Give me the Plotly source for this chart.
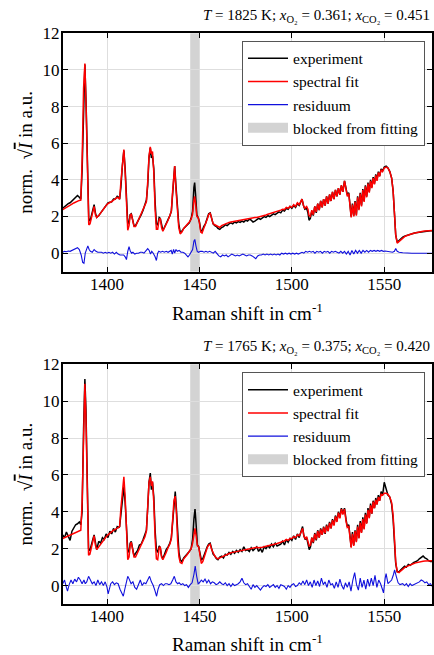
import plotly.graph_objects as go

# ---------------- data: top panel (T = 1825 K) ----------------
wn_top = [
    1376, 1377, 1378, 1379, 1380, 1381, 1382, 1383, 1384, 1385,
    1385.8, 1386.5, 1387.3, 1388, 1388.7, 1389.4, 1390.1, 1390.8, 1391.5, 1392.3,
    1393, 1393.7, 1394.4, 1395.5, 1396.5, 1397.5, 1398.5, 1399.5, 1400.5, 1401.5,
    1402.5, 1403.5, 1404.5, 1405.5, 1406.3, 1406.8, 1407.5, 1408.3, 1409.1, 1409.8,
    1410.5, 1411.2, 1411.9, 1412.5, 1413.1, 1413.8, 1414.6, 1415.4, 1416.5, 1417.5,
    1418.5, 1419.5, 1420.5, 1421.3, 1422, 1422.7, 1423.4, 1424, 1424.6, 1425.3,
    1426, 1426.7, 1427.4, 1428.2, 1428.8, 1429.5, 1430.2, 1431, 1432, 1433,
    1434, 1434.8, 1435.5, 1436.2, 1436.6, 1437.2, 1438, 1438.8, 1439.6, 1440.5,
    1441.5, 1442.5, 1443.5, 1444.5, 1445.5, 1446.3, 1447, 1447.4, 1447.9, 1448.6,
    1449.3, 1450, 1450.7, 1451.4, 1452.3, 1453.2, 1454.2, 1455, 1455.8, 1456.6,
    1457.4, 1458.3, 1459.2, 1460, 1461, 1462, 1463, 1464, 1465, 1466,
    1467, 1468, 1469, 1470, 1471, 1472, 1473, 1474, 1475, 1476,
    1477, 1478, 1479, 1480, 1481, 1482, 1483, 1484, 1485, 1486,
    1487, 1488, 1489, 1490, 1491, 1492, 1493, 1494, 1495, 1496,
    1497, 1498, 1499, 1500, 1501, 1502, 1503, 1504, 1505, 1505.5,
    1506.3, 1507, 1508, 1508.7, 1509.3, 1510, 1510.8, 1511.6, 1512.4, 1513.2,
    1514, 1514.8, 1515.6, 1516.4, 1517.2, 1518, 1518.8, 1519.6, 1520.4, 1521.2,
    1522, 1522.8, 1523.6, 1524.4, 1525.2, 1526, 1526.8, 1527.6, 1528.5, 1529.3,
    1530, 1530.8, 1531.5, 1532.1, 1532.8, 1533.5, 1534.2, 1534.9, 1535.6, 1536.3,
    1537, 1537.7, 1538.4, 1539.1, 1539.8, 1540.5, 1541.2, 1541.9, 1542.6, 1543.3,
    1544, 1544.7, 1545.4, 1546.1, 1546.8, 1547.5, 1548.3, 1549.1, 1550, 1551,
    1552, 1553, 1554, 1554.8, 1555.5, 1556.2, 1557, 1558, 1559, 1560,
    1561, 1562, 1563, 1564, 1565, 1566, 1567, 1568, 1569, 1570,
    1571, 1572, 1573, 1574, 1575, 1576,
]
exp_top = [
    2.45, 2.55, 2.6, 2.7, 2.75, 2.85, 2.95, 3.05, 3.15, 3.05,
    2.95, 4.5, 8.5, 10.3, 8.0, 4.0, 1.9, 1.75, 2.0, 2.4,
    2.65, 2.2, 1.95, 2.05, 2.2, 2.35, 2.5, 2.65, 2.75, 2.78,
    2.8, 2.95, 2.95, 3.1, 3.05, 2.95, 3.6, 4.8, 5.6, 4.6,
    2.6, 1.6, 1.7, 2.1, 2.15, 1.85, 1.5, 1.5, 1.7, 1.9,
    2.1, 2.35, 2.6, 2.9, 3.7, 5.2, 5.75, 5.2, 5.3, 4.6,
    2.8, 1.6, 1.55, 1.95, 1.9, 1.45, 1.25, 1.4, 1.6, 1.8,
    2.05, 2.3, 3.2, 4.5, 4.75, 3.8, 2.4, 1.6, 1.15, 1.2,
    1.35, 1.45, 1.55, 1.65, 1.9, 2.3, 3.6, 3.85, 3.2, 2.1,
    1.95, 1.7, 1.25, 1.2, 1.45, 1.6, 1.9, 2.15, 2.2, 1.95,
    1.6, 1.5, 1.45, 1.35, 1.3, 1.4, 1.45, 1.55, 1.5, 1.6,
    1.65, 1.6, 1.7, 1.65, 1.72, 1.68, 1.75, 1.7, 1.8, 1.75,
    1.85, 1.8, 1.7, 1.75, 1.85, 1.9, 1.85, 1.95, 2.0, 1.95,
    2.05, 2.0, 2.1, 2.15, 2.1, 2.2, 2.25, 2.2, 2.35, 2.3,
    2.45, 2.4, 2.55, 2.45, 2.6, 2.5, 2.7, 2.6, 2.8, 2.95,
    2.6, 2.4, 2.45, 2.2, 1.8, 1.9, 2.3, 2.05, 2.55, 2.2,
    2.7, 2.35, 2.85, 2.5, 2.95, 2.6, 3.1, 2.7, 3.2, 2.85,
    3.35, 2.95, 3.45, 3.1, 3.55, 3.2, 3.7, 3.35, 3.95, 3.5,
    3.2, 3.3, 2.6, 2.0, 2.7, 2.05, 2.85, 2.1, 3.1, 2.4,
    3.3, 2.6, 3.5, 2.85, 3.7, 3.1, 3.85, 3.35, 4.0, 3.6,
    4.15, 3.8, 4.3, 4.0, 4.45, 4.2, 4.6, 4.5, 4.7, 4.75,
    4.65, 4.45, 4.1, 3.4, 2.2, 1.0, 0.6, 0.7, 0.8, 0.88,
    0.93, 0.97, 1.0, 1.03, 1.06, 1.09, 1.11, 1.13, 1.15, 1.17,
    1.18, 1.19, 1.2, 1.21, 1.22, 1.22,
]
fit_top = [
    2.38, 2.45, 2.5, 2.58, 2.62, 2.68, 2.74, 2.8, 2.85, 2.88,
    2.9, 5.0, 9.0, 10.35, 7.8, 3.6, 1.55, 1.6, 1.9, 2.35,
    2.55, 2.1, 1.95, 2.05, 2.2, 2.35, 2.5, 2.6, 2.7, 2.75,
    2.82, 2.9, 3.0, 3.05, 3.0, 2.95, 3.9, 5.0, 5.65, 4.4,
    2.2, 1.25, 1.5, 2.05, 2.15, 1.85, 1.45, 1.45, 1.7, 1.9,
    2.1, 2.35, 2.6, 2.8, 3.9, 5.3, 5.8, 5.4, 5.55, 4.4,
    2.4, 1.3, 1.3, 1.85, 1.9, 1.4, 1.2, 1.35, 1.6, 1.8,
    2.05, 2.3, 3.4, 4.6, 4.75, 3.6, 2.2, 1.4, 1.05, 1.15,
    1.35, 1.45, 1.6, 1.7, 1.85, 2.15, 2.9, 3.1, 2.7, 2.0,
    1.95, 1.65, 1.15, 1.1, 1.35, 1.55, 1.85, 2.1, 2.2, 1.9,
    1.6, 1.55, 1.5, 1.45, 1.4, 1.5, 1.55, 1.6, 1.65, 1.68,
    1.7, 1.72, 1.75, 1.75, 1.78, 1.8, 1.8, 1.82, 1.85, 1.88,
    1.9, 1.9, 1.92, 1.95, 1.95, 1.97, 2.0, 2.05, 2.05, 2.08,
    2.12, 2.15, 2.18, 2.2, 2.25, 2.28, 2.3, 2.35, 2.4, 2.38,
    2.5, 2.45, 2.55, 2.5, 2.65, 2.55, 2.75, 2.65, 2.85, 2.95,
    2.6, 2.45, 2.55, 2.4, 2.05, 2.0, 2.35, 2.1, 2.55, 2.25,
    2.7, 2.35, 2.85, 2.5, 2.95, 2.6, 3.1, 2.7, 3.2, 2.85,
    3.35, 2.95, 3.45, 3.1, 3.55, 3.2, 3.7, 3.35, 3.95, 3.45,
    3.1, 3.25, 2.5, 1.95, 2.65, 2.0, 2.8, 2.05, 3.05, 2.35,
    3.25, 2.55, 3.45, 2.8, 3.65, 3.05, 3.8, 3.3, 3.95, 3.55,
    4.1, 3.75, 4.25, 3.95, 4.4, 4.2, 4.55, 4.45, 4.65, 4.7,
    4.65, 4.45, 4.1, 3.4, 2.2, 1.0, 0.55, 0.65, 0.75, 0.85,
    0.9, 0.95, 1.0, 1.03, 1.06, 1.09, 1.12, 1.14, 1.16, 1.18,
    1.2, 1.21, 1.22, 1.23, 1.24, 1.24,
]
res_wn_top = [
    1376, 1377, 1378, 1379, 1380, 1381, 1382, 1383, 1384, 1385,
    1386, 1386.8, 1387.5, 1388.2, 1389, 1389.6, 1390.3, 1391, 1392, 1393,
    1394, 1395, 1396, 1397, 1398, 1399, 1400, 1401, 1402, 1403,
    1404, 1405, 1406, 1407, 1408, 1409, 1409.8, 1410.5, 1411.2, 1411.9,
    1412.6, 1413.3, 1414, 1415, 1416, 1417, 1418, 1419, 1420, 1421,
    1422, 1422.8, 1423.5, 1424.2, 1425, 1426, 1426.7, 1427.4, 1428, 1429,
    1430, 1431, 1432, 1433, 1434, 1434.7, 1435.3, 1436, 1436.6, 1437.3,
    1438, 1439, 1440, 1441, 1442, 1443, 1443.8, 1444.6, 1445.5, 1446.3,
    1447, 1447.5, 1448.1, 1448.8, 1449.5, 1450.5, 1451.5, 1452.5, 1453.5, 1454.5,
    1455.5, 1456.5, 1457.5, 1458.5, 1459.5, 1460.5, 1461.5, 1462.5, 1463.5, 1464.5,
    1465.5, 1466.5, 1467.5, 1468.5, 1469.5, 1470.5, 1471.5, 1472.5, 1473.5, 1474.5,
    1475.5, 1476.5, 1477.5, 1478.5, 1479.5, 1480.5, 1481.5, 1482.5, 1483.5, 1484.5,
    1485.5, 1486.5, 1487.5, 1488.5, 1489.5, 1490.5, 1491.5, 1492.5, 1493.5, 1494.5,
    1495.5, 1496.5, 1497.5, 1498.5, 1499.5, 1500.5, 1501.5, 1502.5, 1503.5, 1504.5,
    1505.5, 1506.5, 1507.5, 1508.5, 1509.5, 1510.5, 1511.5, 1512.5, 1513.5, 1514.5,
    1515.5, 1516.5, 1517.5, 1518.5, 1519.5, 1520.5, 1521.5, 1522.5, 1523.5, 1524.5,
    1525.5, 1526.5, 1527.5, 1528.5, 1529.5, 1530.5, 1531.5, 1532.5, 1533.5, 1534.5,
    1535.5, 1536.5, 1537.5, 1538.5, 1539.5, 1540.5, 1541.5, 1542.5, 1543.5, 1544.5,
    1545.5, 1546.5, 1547.5, 1548.5, 1549.5, 1550.5, 1551.5, 1552.5, 1553.5, 1554.5,
    1555.5, 1556.2, 1557, 1558, 1560, 1562, 1565, 1568, 1571, 1574,
    1576,
]
res_top = [
    0.05, 0.1, 0.08, 0.12, 0.1, 0.15, 0.2, 0.25, 0.3, 0.2,
    -0.1, -0.5, -0.55, 0.0, 0.3, 0.4, 0.2, 0.1, 0.05, 0.2,
    0.1, 0.05, 0.05, 0.05, 0.0, 0.05, 0.0, 0.05, 0.0, 0.05,
    -0.05, 0.05, -0.05, -0.1, -0.1, -0.1, -0.2, -0.35, 0.1, 0.35,
    0.1, 0.0, 0.05, -0.05, 0.0, 0.0, 0.05, 0.05, 0.0, 0.1,
    0.25, 0.15, -0.05, 0.1, 0.0, -0.2, -0.4, 0.0, 0.1, 0.05,
    0.1, 0.05, 0.1, 0.05, 0.1, 0.15, -0.05, 0.2, 0.0, 0.2,
    0.1, 0.15, 0.05, 0.05, 0.0, -0.1, -0.2, -0.1, 0.05, 0.2,
    0.65, 0.75, 0.4, 0.1, 0.05, 0.1, 0.1, 0.05, 0.1, 0.05,
    0.1, 0.05, 0.0, 0.1, -0.05, -0.15, -0.2, -0.1, -0.15, -0.1,
    -0.2, -0.1, -0.05, -0.1, -0.15, -0.1, -0.15, -0.1, -0.05, -0.1,
    -0.15, -0.1, -0.1, -0.15, -0.25, -0.3, -0.15, -0.1, -0.1, -0.05,
    -0.1, -0.05, -0.1, -0.05, -0.1, -0.05, -0.1, -0.05, -0.1, 0.0,
    -0.05, 0.0, -0.05, 0.0, -0.05, 0.0, -0.05, 0.0, -0.05, 0.0,
    0.05, 0.0, 0.1, 0.05, 0.1, 0.05, 0.1, 0.0, 0.1, 0.05,
    0.1, 0.0, 0.1, 0.05, 0.1, 0.0, 0.1, 0.05, 0.1, 0.05,
    0.0, 0.1, 0.0, 0.1, -0.05, 0.1, -0.1, 0.15, -0.05, 0.15,
    0.0, 0.15, 0.0, 0.15, 0.05, 0.15, 0.05, 0.15, 0.1, 0.15,
    0.1, 0.15, 0.1, 0.15, 0.1, 0.12, 0.1, 0.08, 0.05, 0.05,
    0.1, 0.25, 0.1, 0.05, 0.02, 0.0, 0.0, 0.0, -0.02, 0.0,
    0.0,
]

# ---------------- data: bottom panel (T = 1765 K) ----------------
wn_bot = [
    1376, 1377, 1378, 1379, 1380, 1381, 1382, 1383, 1384, 1385,
    1385.8, 1386.5, 1387.3, 1388, 1388.6, 1389.3, 1390, 1390.7, 1391.5, 1392.3,
    1393, 1393.7, 1394.4, 1395.5, 1396.5, 1397.5, 1398.5, 1399.5, 1400.5, 1401.5,
    1402.5, 1403.5, 1404.5, 1405.5, 1406.3, 1406.8, 1407.5, 1408.3, 1409.1, 1409.8,
    1410.5, 1411.2, 1411.9, 1412.5, 1413.1, 1413.8, 1414.6, 1415.4, 1416.5, 1417.5,
    1418.5, 1419.5, 1420.5, 1421.3, 1422, 1422.7, 1423.4, 1424, 1424.6, 1425.3,
    1426, 1426.7, 1427.4, 1428.2, 1428.8, 1429.5, 1430.2, 1431, 1432, 1433,
    1434, 1434.8, 1435.5, 1436.2, 1436.9, 1437.5, 1438.2, 1438.9, 1439.6, 1440.5,
    1441.5, 1442.5, 1443.5, 1444.5, 1445.5, 1446.3, 1447, 1447.6, 1448.2, 1448.9,
    1449.6, 1450.3, 1451, 1451.8, 1452.6, 1453.4, 1454.2, 1455, 1455.8, 1456.6,
    1457.4, 1458.3, 1459.2, 1460, 1461, 1462, 1463, 1464, 1465, 1466,
    1467, 1468, 1469, 1470, 1471, 1472, 1473, 1474, 1475, 1476,
    1477, 1478, 1479, 1480, 1481, 1482, 1483, 1484, 1485, 1486,
    1487, 1488, 1489, 1490, 1491, 1492, 1493, 1494, 1495, 1496,
    1497, 1498, 1499, 1500, 1501, 1502, 1503, 1504, 1505, 1505.8,
    1506.5, 1507.2, 1508, 1508.7, 1509.4, 1510.1, 1510.8, 1511.6, 1512.4, 1513.2,
    1514, 1514.8, 1515.6, 1516.4, 1517.2, 1518, 1518.8, 1519.6, 1520.4, 1521.2,
    1522, 1522.8, 1523.6, 1524.4, 1525.2, 1526, 1526.8, 1527.6, 1528.5, 1529.3,
    1530, 1530.8, 1531.5, 1532.1, 1532.8, 1533.5, 1534.2, 1534.9, 1535.6, 1536.3,
    1537, 1537.7, 1538.4, 1539.1, 1539.8, 1540.5, 1541.2, 1541.9, 1542.6, 1543.3,
    1544, 1544.7, 1545.4, 1546.1, 1546.8, 1547.5, 1548.3, 1549.1, 1550, 1551,
    1552, 1553, 1554, 1554.8, 1555.5, 1556.2, 1557, 1558, 1559, 1560,
    1561, 1562, 1563, 1564, 1565, 1566, 1567, 1568, 1569, 1570,
    1571, 1572, 1573, 1574, 1575, 1576,
]
exp_bot = [
    2.75, 2.6, 2.9, 2.65, 2.45, 2.95, 3.1, 3.3, 3.35, 3.45,
    3.3, 4.0, 8.5, 11.2, 9.5, 4.5, 2.0, 1.9, 2.3, 2.5,
    2.75, 2.25, 1.95, 2.4, 2.3, 2.6, 2.5, 2.8, 2.6, 2.95,
    2.8, 3.1, 2.9, 3.2, 3.15, 3.2, 3.8, 4.8, 5.35, 4.5,
    2.8, 1.9, 1.8, 2.3, 2.4, 2.0, 1.6, 1.75, 1.9, 2.2,
    2.25, 2.5, 2.75, 3.0, 4.2, 5.6, 6.1, 5.2, 5.6, 4.8,
    3.0, 1.95, 1.8, 2.15, 2.05, 1.6, 1.45, 1.7, 1.95, 2.1,
    2.3, 2.6, 3.5, 4.6, 5.1, 4.2, 2.6, 1.8, 1.4, 1.3,
    1.5, 1.6, 1.75, 1.85, 2.0, 2.5, 3.6, 4.15, 3.3, 2.2,
    2.1, 1.65, 1.4, 1.45, 1.7, 1.9, 2.1, 2.25, 2.3, 2.0,
    1.7, 1.6, 1.45, 1.4, 1.55, 1.6, 1.5, 1.7, 1.65, 1.8,
    1.7, 1.85, 1.75, 1.9, 1.8, 1.95, 1.85, 2.1, 1.9, 1.95,
    1.85, 2.05, 1.9, 2.0, 2.1, 1.85, 2.0, 1.8, 2.1, 2.0,
    2.15, 2.05, 2.25, 2.1, 2.3, 2.15, 2.2, 2.25, 2.4, 2.2,
    2.5, 2.35, 2.55, 2.45, 2.7, 2.5, 2.8, 2.6, 2.95, 3.2,
    2.7, 2.5, 2.6, 2.2, 1.95, 2.1, 2.6, 2.3, 2.85, 2.45,
    3.0, 2.6, 3.1, 2.75, 3.2, 2.8, 3.3, 2.95, 3.45, 3.1,
    3.6, 3.3, 3.8, 3.5, 4.0, 3.7, 4.2, 3.9, 4.2, 3.6,
    3.2, 3.3, 2.6, 2.1, 2.9, 2.2, 3.0, 2.4, 3.3, 2.6,
    3.5, 2.9, 3.7, 3.1, 3.95, 3.4, 4.2, 3.7, 4.45, 3.9,
    4.6, 4.2, 4.75, 4.4, 4.9, 4.6, 5.1, 4.9, 5.6, 5.2,
    4.9, 4.8, 4.4, 3.6, 2.5, 1.2, 0.75, 0.75, 0.85, 0.95,
    1.05, 1.0, 1.15, 1.1, 1.2, 1.25, 1.3, 1.35, 1.45, 1.55,
    1.6, 1.5, 1.45, 1.35, 1.3, 1.3,
]
fit_bot = [
    2.55, 2.6, 2.65, 2.7, 2.75, 2.8, 2.85, 2.9, 2.95, 2.97,
    3.0, 4.5, 9.0, 10.95, 9.0, 4.0, 1.65, 1.7, 2.1, 2.45,
    2.7, 2.2, 1.95, 2.1, 2.25, 2.4, 2.55, 2.65, 2.75, 2.85,
    2.95, 3.0, 3.05, 3.1, 3.15, 3.2, 4.2, 5.3, 5.9, 4.8,
    2.4, 1.4, 1.55, 2.2, 2.35, 1.95, 1.55, 1.55, 1.8, 2.0,
    2.2, 2.4, 2.65, 2.95, 4.4, 5.6, 5.9, 5.4, 5.65, 4.5,
    2.6, 1.45, 1.4, 2.05, 2.1, 1.55, 1.4, 1.55, 1.8, 2.05,
    2.25, 2.55, 3.6, 4.6, 4.85, 4.0, 2.4, 1.55, 1.25, 1.2,
    1.45, 1.55, 1.7, 1.85, 2.0, 2.3, 2.9, 3.1, 2.7, 2.15,
    2.1, 1.5, 1.2, 1.3, 1.6, 1.85, 2.05, 2.2, 2.25, 1.95,
    1.75, 1.6, 1.5, 1.45, 1.5, 1.55, 1.6, 1.65, 1.7, 1.75,
    1.78, 1.8, 1.82, 1.85, 1.88, 1.9, 1.92, 1.95, 1.97, 2.0,
    2.0, 2.02, 2.03, 2.05, 2.07, 2.05, 2.05, 2.08, 2.1, 2.12,
    2.15, 2.15, 2.2, 2.2, 2.25, 2.28, 2.3, 2.35, 2.4, 2.42,
    2.5, 2.45, 2.55, 2.55, 2.65, 2.6, 2.75, 2.7, 2.9, 3.1,
    2.7, 2.55, 2.65, 2.4, 2.15, 2.2, 2.6, 2.35, 2.8, 2.5,
    2.95, 2.6, 3.05, 2.75, 3.15, 2.85, 3.25, 2.95, 3.4, 3.1,
    3.55, 3.25, 3.75, 3.45, 3.95, 3.65, 4.15, 3.85, 4.15, 3.5,
    3.15, 3.2, 2.5, 2.05, 2.8, 2.15, 2.95, 2.35, 3.2, 2.55,
    3.4, 2.85, 3.6, 3.05, 3.85, 3.35, 4.1, 3.65, 4.35, 3.9,
    4.55, 4.2, 4.65, 4.4, 4.8, 4.6, 4.95, 4.9, 5.0, 5.0,
    4.95, 4.8, 4.5, 3.8, 2.6, 1.3, 0.75, 0.7, 0.8, 0.9,
    0.97, 1.03, 1.08, 1.13, 1.17, 1.2, 1.23, 1.26, 1.28, 1.3,
    1.32, 1.33, 1.34, 1.35, 1.35, 1.35,
]
res_wn_bot = [
    1376, 1377, 1378, 1378.6, 1379.5, 1380.5, 1381.5, 1382.5, 1383.5, 1384.5,
    1385.5, 1386.5, 1387.5, 1388.2, 1389, 1390, 1391, 1392, 1393, 1394,
    1395, 1396, 1397, 1398, 1399, 1400, 1400.6, 1401.3, 1402, 1403,
    1404, 1405, 1406, 1407, 1408, 1408.8, 1409.6, 1410.4, 1411.2, 1412,
    1413, 1414, 1415, 1416, 1417, 1418, 1419, 1420, 1421, 1422,
    1423, 1424, 1425, 1426, 1426.8, 1427.6, 1428.5, 1429.5, 1430.5, 1431.5,
    1432.5, 1433.5, 1434.5, 1435.5, 1436.4, 1437.3, 1438.2, 1439, 1440, 1441,
    1442, 1443, 1444, 1445, 1446, 1447, 1447.7, 1448.5, 1449.3, 1450,
    1451, 1452, 1453, 1454, 1455, 1456, 1457, 1458, 1459, 1460,
    1461, 1462, 1463, 1464, 1465, 1466, 1467, 1468, 1469, 1470,
    1471, 1472, 1473, 1474, 1475, 1476, 1477, 1478, 1479, 1480,
    1481, 1482, 1483, 1484, 1485, 1486, 1487, 1488, 1489, 1490,
    1491, 1492, 1493, 1494, 1495, 1496, 1497, 1498, 1499, 1500,
    1501, 1502, 1503, 1504, 1505, 1506, 1507, 1508, 1509, 1510,
    1511, 1512, 1513, 1514, 1515, 1516, 1517, 1518, 1519, 1520,
    1521, 1522, 1523, 1524, 1525, 1526, 1527, 1528, 1529, 1530,
    1531, 1532, 1533, 1534, 1535, 1536, 1537, 1538, 1539, 1540,
    1541, 1542, 1543, 1544, 1545, 1546, 1547, 1548, 1549, 1549.6,
    1550.5, 1551, 1552, 1553, 1554, 1555, 1555.6, 1556.5, 1557.5, 1558.5,
    1560, 1561, 1562, 1563, 1564, 1565, 1566, 1567, 1568, 1569,
    1570, 1571, 1572, 1573, 1574, 1575, 1576,
]
res_bot = [
    0.1, 0.3, -0.1, -0.3, 0.05, 0.3, 0.1, 0.35, 0.2, 0.45,
    0.3, 0.1, 0.3, 0.1, 0.2, 0.5, 0.3, 0.1, 0.2, 0.0,
    0.3, 0.05, 0.2, 0.0, 0.2, -0.1, -0.45, -0.1, 0.1, 0.2,
    0.05, 0.15, 0.1, -0.2, -0.4, -0.58, -0.2, 0.2, 0.5, 0.35,
    0.1, 0.2, -0.1, -0.2, 0.1, 0.3, 0.0, 0.15, 0.1, 0.3,
    0.5, 0.2, 0.0, -0.3, -0.58, -0.2, 0.05, 0.1, 0.0, 0.1,
    0.1, 0.05, 0.1, 0.3, 0.5, 0.2, 0.1, 0.15, 0.05, 0.1,
    0.0, 0.05, -0.1, 0.05, 0.15, 0.6, 1.05, 0.5, 0.1, 0.15,
    0.3, 0.2, 0.35, 0.15, 0.3, 0.1, 0.2, 0.15, 0.05, 0.1,
    0.2, 0.1, 0.05, 0.15, 0.0, 0.1, -0.05, 0.1, 0.0, 0.05,
    0.1, 0.2, 0.4, 0.15, 0.05, 0.1, -0.05, -0.2, 0.05, -0.1,
    0.0, -0.1, -0.25, -0.1, 0.0, -0.05, 0.05, -0.1, 0.0, 0.05,
    -0.1, 0.0, -0.15, 0.05, 0.0, -0.05, -0.2, 0.0, -0.1, 0.05,
    0.1, -0.05, 0.0, 0.15, 0.05, 0.25, 0.05, 0.3, 0.0, 0.2,
    -0.1, 0.3, 0.0, 0.25, -0.05, 0.4, 0.05, 0.2, -0.1, 0.3,
    0.05, 0.1, -0.15, 0.2, -0.1, 0.35, 0.0, -0.2, 0.15, -0.1,
    0.2, -0.3, 0.3, 0.7, 0.05, -0.25, 0.4, -0.1, 0.3, -0.2,
    0.35, -0.05, 0.4, 0.0, 0.55, -0.1, 0.3, 0.1, -0.2, -0.4,
    0.4, 0.65, 0.1, 0.2, 0.3, 0.6, 0.85, 0.5, 0.15, 0.05,
    0.1, 0.0, 0.1, -0.05, 0.1, 0.0, 0.05, 0.1, 0.15, 0.2,
    0.3, 0.25, 0.15, 0.2, 0.05, 0.1, -0.05,
]

blocked_range = [1445, 1450]
x_range = [1376, 1576]
y_range = [-1, 12]
x_ticks = [1400, 1450, 1500, 1550]
y_ticks = [0, 2, 4, 6, 8, 10, 12]
titles = [
    "<i>T</i> = 1825 K; <i>x</i><sub>O₂</sub> = 0.361; <i>x</i><sub>CO₂</sub> = 0.451",
    "<i>T</i> = 1765 K; <i>x</i><sub>O₂</sub> = 0.375; <i>x</i><sub>CO₂</sub> = 0.420",
]

FONT = "Liberation Serif"
W, H = 434, 655

fig = go.Figure()

panels = [
    (wn_top, exp_top, fit_top, res_wn_top, res_top, "x", "y", "legend"),
    (wn_bot, exp_bot, fit_bot, res_wn_bot, res_bot, "x2", "y2", "legend2"),
]
for wn, ex, ft, rwn, rs, xa, ya, lg in panels:
    fig.add_trace(go.Scatter(x=wn, y=ex, mode="lines", name="experiment",
                             line=dict(color="black", width=1.5),
                             xaxis=xa, yaxis=ya, legend=lg, legendrank=1))
    fig.add_trace(go.Scatter(x=wn, y=ft, mode="lines", name="spectral fit",
                             line=dict(color="#ff0000", width=1.5),
                             xaxis=xa, yaxis=ya, legend=lg, legendrank=2))
    fig.add_trace(go.Scatter(x=rwn, y=rs, mode="lines", name="residuum",
                             line=dict(color="#1010dd", width=1.1),
                             xaxis=xa, yaxis=ya, legend=lg, legendrank=3))
    fig.add_trace(go.Scatter(x=[None], y=[None], mode="lines", name="blocked from fitting",
                             line=dict(color="#d3d3d3", width=12),
                             xaxis=xa, yaxis=ya, legend=lg, legendrank=4))
    fig.add_shape(type="rect", x0=blocked_range[0], x1=blocked_range[1], xref=xa,
                  yref=ya + " domain", y0=0, y1=1, fillcolor="#d3d3d3",
                  line_width=0, layer="below")

# panel geometry (pixels)
top_px = [(33.3, 271.5), (364.3, 604)]
left_px, right_px = 62.7, 432.3
xdom = [left_px / W, right_px / W]
ydoms = [[(H - b) / H, (H - t) / H] for t, b in top_px]

axis_common = dict(
    showline=True, linecolor="black", linewidth=1.8, mirror="allticks",
    ticks="inside", ticklen=5, tickwidth=1, tickcolor="black",
    showgrid=True, gridcolor="#dedede", gridwidth=1, zeroline=False,
    tickfont=dict(family=FONT, size=17, color="black"), automargin=False,
)
xtitle = dict(text="Raman shift in cm<sup>-1</sup>", font=dict(family=FONT, size=19, color="black"), standoff=14)
ytitle = dict(text="norm.  √<span style='text-decoration:overline'><i>I</i></span> in a.u.",
              font=dict(family=FONT, size=19, color="black"), standoff=5)

legend_common = dict(xanchor="right", yanchor="top",
                     bgcolor="white", bordercolor="#555555", borderwidth=1,
                     font=dict(family=FONT, size=15.5, color="black"), itemwidth=40,
                     tracegroupgap=0, traceorder="normal")

fig.update_layout(
    width=W, height=H,
    margin=dict(l=0, r=0, t=0, b=0, pad=0, autoexpand=False),
    paper_bgcolor="white", plot_bgcolor="white",
    font=dict(family=FONT, color="black"),
    xaxis=dict(domain=xdom, anchor="y", range=x_range, tickvals=x_ticks, title=xtitle,
               ticklabelstandoff=-4, **axis_common),
    yaxis=dict(domain=ydoms[0], anchor="x", range=y_range, tickvals=y_ticks, title=ytitle,
               ticklabelstandoff=-2, **axis_common),
    xaxis2=dict(domain=xdom, anchor="y2", range=x_range, tickvals=x_ticks, title=xtitle,
                ticklabelstandoff=-4, **axis_common),
    yaxis2=dict(domain=ydoms[1], anchor="x2", range=y_range, tickvals=y_ticks, title=ytitle,
                ticklabelstandoff=-2, **axis_common),
    legend=dict(x=425 / W, y=(H - 40.7) / H, **legend_common),
    legend2=dict(x=425 / W, y=(H - 372.3) / H, **legend_common),
    showlegend=True,
)

for i, t in enumerate(titles):
    fig.add_annotation(text=t, xref="paper", yref="paper", x=xdom[1], xanchor="right",
                       y=ydoms[i][1] + 6 / H, yanchor="bottom", showarrow=False,
                       font=dict(family=FONT, size=15, color="black"))

fig.write_html("out.html")
